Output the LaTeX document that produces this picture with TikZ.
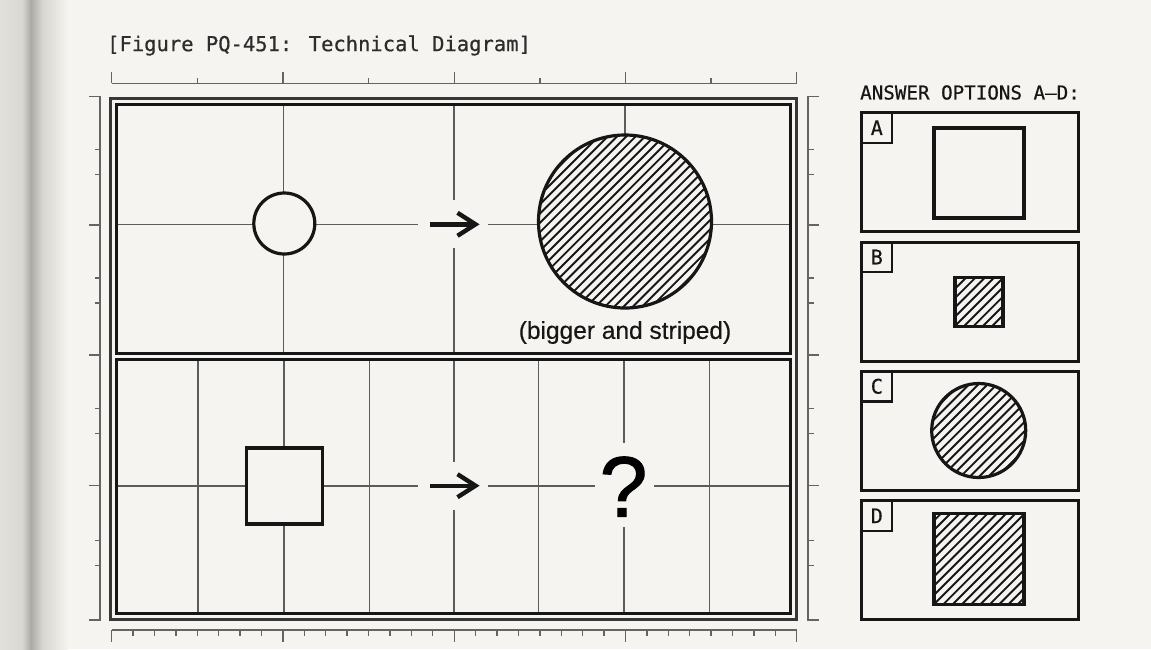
\documentclass[tikz,border=0pt]{standalone}
\usepackage{fontspec}
\setmainfont{Liberation Sans}
\newfontfamily\monof[FakeBold=0.6]{DejaVu Sans Mono}
\newfontfamily\qfont[FakeBold=1.2]{Liberation Sans}
\newfontfamily\labfont[FakeBold=0.4]{Liberation Sans}
\usetikzlibrary{arrows.meta}
\definecolor{paper}{RGB}{245,244,240}
\definecolor{shA}{RGB}{226,224,218}
\definecolor{shB}{RGB}{172,170,164}
\definecolor{shC}{RGB}{215,213,207}
\definecolor{gridc}{RGB}{92,92,92}
\definecolor{rulec}{RGB}{100,100,100}
\definecolor{inkc}{RGB}{22,22,22}
\definecolor{framec}{RGB}{55,55,55}
\definecolor{titlec}{RGB}{45,45,45}
\tikzset{
  ruler/.style={draw=rulec,line width=1.4pt},
  gridline/.style={draw=gridc,line width=1.6pt},
  mask/.style={fill=paper,draw=none,inner sep=0pt,outer sep=0pt},
  hatch/.style={fill=paper,path picture={
      \foreach \k in {-26,...,26}
        \draw[line width=1.9pt,draw=inkc] ([shift={(\k*9.3-115,115)}]path picture bounding box.center) -- ++(230,-230);}},
  shapeline/.style={draw=inkc,line width=3.2pt,inner sep=0pt,outer sep=0pt},
  cellbox/.style={draw=inkc,line width=3pt},
  optbox/.style={draw=inkc,line width=3pt,minimum width=217pt,minimum height=119pt,inner sep=0pt,outer sep=0pt},
  tagbox/.style={draw=inkc,line width=2.4pt,minimum size=30pt,inner sep=0pt,outer sep=0pt,font=\monof\fontsize{20}{22}\selectfont,text=inkc},
  arrowline/.style={draw=inkc,line width=4.4pt,line join=miter}
}
\begin{document}
\begin{tikzpicture}[x=1pt,y=-1pt]
\useasboundingbox (0,0) rectangle (1151,649);
% paper and binding shadow
\fill[paper] (0,0) rectangle (1151,649);
\fill[left color=shA,right color=shA!85!shB] (0,0) rectangle (22,649);
\fill[left color=shA!85!shB,right color=shB] (22,0) rectangle (31,649);
\fill[left color=shB,right color=shC] (31,0) rectangle (42,649);
\fill[left color=shC,right color=paper] (42,0) rectangle (68,649);

% title
\node[anchor=west,inner sep=0pt,text=titlec,font=\monof\fontsize{20.5}{24}\selectfont] (title) at (107,45.5) {[Figure PQ-451: Technical Diagram]};

% top ruler
\draw[ruler] (111.7,83.3) -- (796.7,83.3);
\foreach \i in {0,...,4} \draw[ruler] ({111.7+171.25*\i},83.3) -- ++(0,-11);
\foreach \i in {0,...,3} \draw[ruler] ({197.325+171.25*\i},83.3) -- ++(0,-5.5);
% bottom ruler
\draw[ruler] (111.7,630) -- (796.7,630);
\foreach \i in {0,...,32}{
  \pgfmathparse{mod(\i,8)==0?12:5.5}\let\tl\pgfmathresult
  \draw[ruler] ({111.7+21.40625*\i},630) -- ++(0,\tl);
}
% left ruler
\draw[ruler] (89,96.7) -- (100,96.7) -- (100,620) -- (89,620);
\foreach \y in {225,355,485.7} \draw[ruler] (100,\y) -- (89,\y);
\foreach \y in {149.5,174.5,278,303,408.5,433.5,540.7,565.3} \draw[ruler] (100,\y) -- (94.5,\y);
% right ruler
\draw[ruler] (819,96.7) -- (808,96.7) -- (808,620) -- (819,620);
\foreach \y in {225,355,485.7} \draw[ruler] (808,\y) -- (819,\y);
\foreach \y in {149.5,174.5,278,303,408.5,433.5,540.7,565.3} \draw[ruler] (808,\y) -- (813.5,\y);

% grid lines, top cell
\draw[gridline] (283.3,104) -- (283.3,353);
\draw[gridline] (453.8,104) -- (453.8,353);
\draw[gridline] (625,104) -- (625,222);
\draw[gridline] (116.7,224.3) -- (790.7,224.3);
% grid lines, bottom cell
\foreach \x in {197.7,283.8,369.3,453.8,538.5,624,709.3} \draw[gridline] (\x,359.3) -- (\x,613.3);
\draw[gridline] (116.7,485.7) -- (790.7,485.7);

% frames
\draw[draw=framec,line width=3pt] (110.7,98.3) rectangle (796.7,619.8);
\draw[cellbox] (116.9,104.2) rectangle (790.5,353);
\draw[cellbox] (116.9,359.3) rectangle (790.5,613.1);

% masks around arrows and question mark
\node[mask,minimum width=70pt,minimum height=48pt] (m1) at (453,224.3) {};
\node[mask,minimum width=70pt,minimum height=48pt] (m2) at (453,485.7) {};
\node[mask,minimum width=59pt,minimum height=84pt] (m3) at (624.5,485) {};

% top row
\node[shapeline,circle,fill=paper,minimum size=61pt] (sc) at (284.3,223.5) {};
\node[shapeline,circle,hatch,minimum size=173pt] (bc) at (625,221.5) {};
\node[anchor=center,inner sep=1pt,font=\labfont\fontsize{24.5}{28}\selectfont,text=inkc] (lab) at (625,332.5) {(bigger and striped)};
\coordinate (a1s) at (430,224.3);
\coordinate (a1e) at (475.5,224.3);
\draw[arrowline] (a1s) -- (a1e);
\draw[arrowline] ([shift={(-18,-11.5)}]a1e) -- (a1e) -- ([shift={(-18,11.5)}]a1e);

% bottom row
\node[shapeline,rectangle,fill=paper,minimum width=76pt,minimum height=76pt] (sq) at (284.5,486) {};
\coordinate (a2s) at (430,485.7);
\coordinate (a2e) at (475.5,485.7);
\draw[arrowline] (a2s) -- (a2e);
\draw[arrowline] ([shift={(-18,-11.5)}]a2e) -- (a2e) -- ([shift={(-18,11.5)}]a2e);
\node[anchor=base,inner sep=0pt,font=\qfont\fontsize{86}{90}\selectfont,text=black] (q) at (623.5,516.7) {?};

% answer panel
\node[anchor=west,inner sep=0pt,text=inkc,font=\monof\fontsize{19.2}{22}\selectfont] (anshead) at (860,92.5) {ANSWER OPTIONS A–D:};

\node[optbox] (boxA) at (970.3,172.2) {};
\node[optbox] (boxB) at (970.3,301.5) {};
\node[optbox] (boxC) at (970.3,430.8) {};
\node[optbox] (boxD) at (970.3,560.3) {};

\node[tagbox,anchor=north west] (tA) at (boxA.north west) {A};
\node[tagbox,anchor=north west] (tB) at (boxB.north west) {B};
\node[tagbox,anchor=north west] (tC) at (boxC.north west) {C};
\node[tagbox,anchor=north west] (tD) at (boxD.north west) {D};

\node[shapeline,rectangle,minimum width=90pt,minimum height=90pt] (shA) at (979,173) {};
\node[shapeline,rectangle,hatch,minimum width=48pt,minimum height=49pt] (shBq) at (979,302) {};
\node[shapeline,circle,hatch,minimum size=94pt] (shC) at (978.7,430.5) {};
\node[shapeline,rectangle,hatch,minimum width=90pt,minimum height=91pt] (shD) at (979,559.3) {};
\end{tikzpicture}
\end{document}
